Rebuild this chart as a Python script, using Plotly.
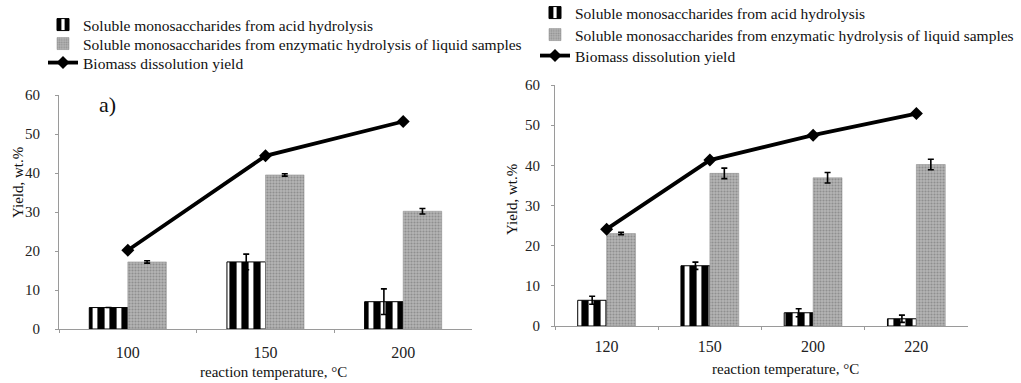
import plotly.graph_objects as go

# Left panel (a)
temps_a = ["100", "150", "200"]
acid_a = [5.5, 17.2, 7.0]
acid_a_err = [0.0, 2.0, 3.3]
enz_a = [17.2, 39.5, 30.2]
enz_a_err = [0.3, 0.3, 0.7]
diss_a = [20.2, 44.4, 53.2]

# Right panel
temps_b = ["120", "150", "200", "220"]
acid_b = [6.4, 15.0, 3.3, 1.8]
acid_b_err = [1.0, 0.9, 1.0, 0.9]
enz_b = [23.0, 38.0, 36.9, 40.2]
enz_b_err = [0.3, 1.3, 1.3, 1.3]
diss_b = [24.1, 41.3, 47.5, 52.9]

name_acid = "Soluble monosaccharides from acid hydrolysis"
name_enz = "Soluble monosaccharides from enzymatic hydrolysis of liquid samples"
name_diss = "Biomass dissolution yield"

FONT = "Liberation Serif, Times New Roman, serif"
W, H = 1021, 383

acid_marker = dict(color="white", line=dict(color="black", width=1),
                   pattern=dict(shape="|", fgcolor="black", bgcolor="white",
                                size=12, solidity=0.6, fillmode="replace"))
enz_marker = dict(color="#a8a8a8", line=dict(color="#8a8a8a", width=0.5),
                  pattern=dict(shape=".", fgcolor="#6a6a6a", bgcolor="#b4b4b4",
                               size=3, solidity=0.4))
err_style = dict(type="data", color="black", thickness=1.6, width=3, visible=True)

fig = go.Figure()

def add_panel(cats, acid, acid_err, enz, enz_err, diss, xa, ya, legs):
    fig.add_trace(go.Bar(x=cats, y=acid, name=name_acid, marker=acid_marker,
                         error_y=dict(array=acid_err, **err_style),
                         xaxis=xa, yaxis=ya, legend=legs[0]))
    fig.add_trace(go.Bar(x=cats, y=enz, name=name_enz, marker=enz_marker,
                         error_y=dict(array=enz_err, **err_style),
                         xaxis=xa, yaxis=ya, legend=legs[1]))
    fig.add_trace(go.Scatter(x=cats, y=diss, name=name_diss, mode="lines+markers",
                             line=dict(color="black", width=3.8),
                             marker=dict(symbol="diamond", size=10, color="black"),
                             xaxis=xa, yaxis=ya, legend=legs[2]))

add_panel(temps_a, acid_a, acid_a_err, enz_a, enz_a_err, diss_a, "x", "y",
          ["legend", "legend2", "legend3"])
add_panel(temps_b, acid_b, acid_b_err, enz_b, enz_b_err, diss_b, "x2", "y2",
          ["legend4", "legend5", "legend6"])

def px_x(p):
    return p / W

def px_y(p):
    return 1 - p / H

xcommon = dict(type="category", showgrid=False, showline=True, linecolor="#9a9a9a",
               linewidth=1, ticks="outside", tickson="boundaries", ticklen=3,
               tickcolor="#9a9a9a", tickfont=dict(family=FONT, size=16, color="#222"),
               zeroline=False, automargin=False)
ycommon = dict(range=[0, 60], dtick=10, showgrid=False, showline=True, linecolor="#9a9a9a",
               linewidth=1, ticks="outside", ticklen=3, tickcolor="#9a9a9a",
               tickfont=dict(family=FONT, size=15, color="#222"), zeroline=False,
               automargin=False)

legfont = dict(family=FONT, size=15.5, color="#111")

def leg(xp, yp):
    return dict(xref="container", yref="container", x=px_x(xp), y=px_y(yp),
                xanchor="left", yanchor="middle", font=legfont, tracegroupgap=0,
                bgcolor="rgba(0,0,0,0)", itemwidth=30)

fig.update_layout(
    width=W, height=H, margin=dict(l=0, r=0, t=0, b=0, autoexpand=False),
    paper_bgcolor="white", plot_bgcolor="white",
    barmode="group", bargap=0.44, bargroupgap=0,
    font=dict(family=FONT, color="#111"),
    xaxis=dict(domain=[px_x(59), px_x(472)], anchor="y", range=[-0.5, 2.5],
               ticklabelstandoff=9, **xcommon),
    yaxis=dict(domain=[px_y(329), px_y(95)], anchor="x", ticklabelstandoff=12, **ycommon),
    xaxis2=dict(domain=[px_x(555), px_x(968)], anchor="y2", range=[-0.5, 3.5],
                ticklabelstandoff=6, **xcommon),
    yaxis2=dict(domain=[px_y(326), px_y(85)], anchor="x2", ticklabelstandoff=8, **ycommon),
    legend=leg(43, 25),
    legend2=leg(43, 44),
    legend3=leg(43, 63),
    legend4=leg(535, 13),
    legend5=leg(535, 35),
    legend6=leg(535, 56),
    showlegend=True,
)

annos = [
    dict(text="a)", x=px_x(107), y=px_y(105), font=dict(size=22, family=FONT, color="#111")),
    dict(text="reaction temperature, °C", x=px_x(273), y=px_y(372),
         font=dict(size=15, family=FONT, color="#111")),
    dict(text="reaction temperature, °C", x=px_x(785), y=px_y(369),
         font=dict(size=15, family=FONT, color="#111")),
    dict(text="Yield, wt.%", x=px_x(18), y=px_y(183), textangle=-90,
         font=dict(size=15, family=FONT, color="#111")),
    dict(text="Yield, wt.%", x=px_x(512), y=px_y(200), textangle=-90,
         font=dict(size=15, family=FONT, color="#111")),
]
for a in annos:
    fig.add_annotation(xref="paper", yref="paper", showarrow=False,
                       xanchor="center", yanchor="middle", **a)

fig.write_html("out.html", config={"displayModeBar": False},
               post_script="document.body.style.margin='0';document.body.style.overflow='hidden';")
